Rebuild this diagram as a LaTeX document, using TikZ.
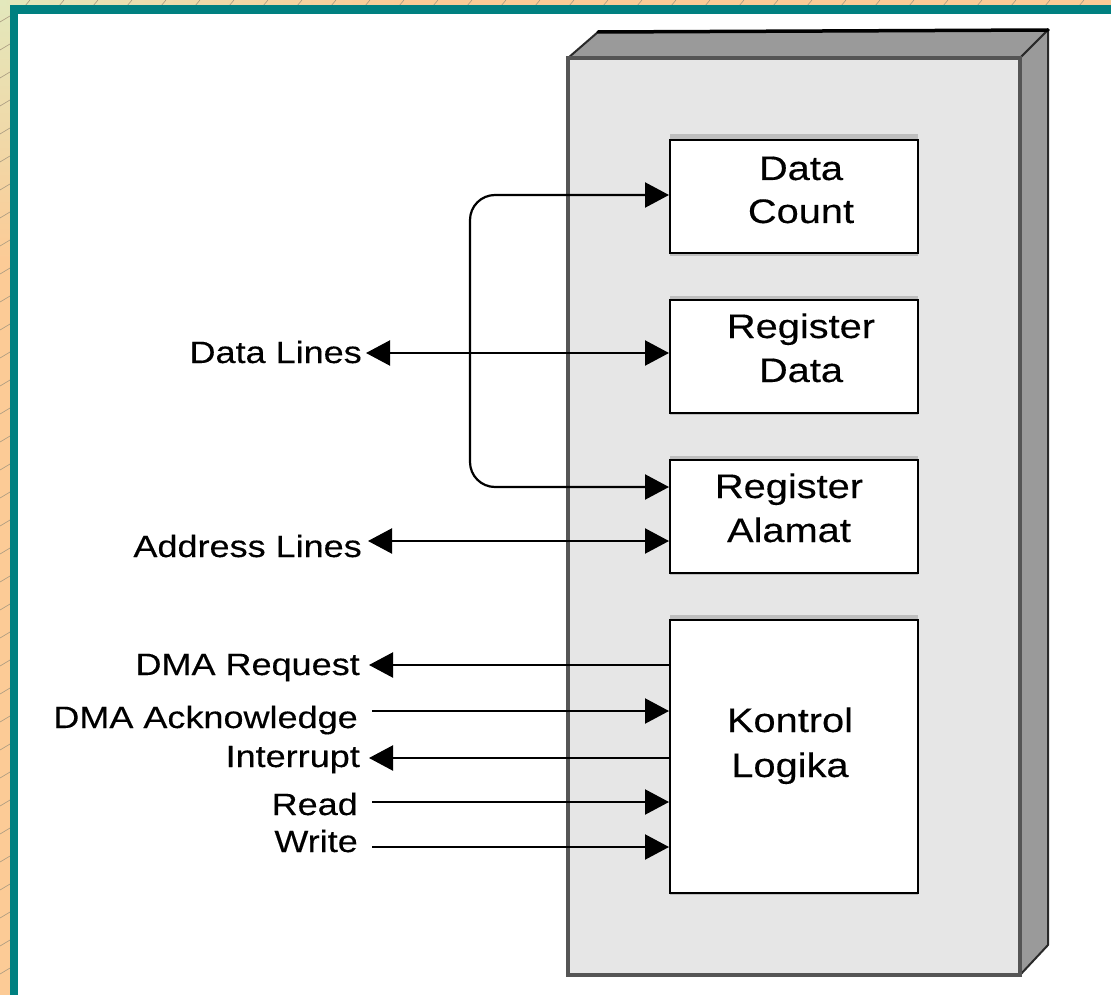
\documentclass[tikz,border=0pt]{standalone}
\usepackage{fontspec}
\setmainfont{Liberation Sans}[FakeStretch=1.17,FakeBold=0.3]
\usetikzlibrary{arrows.meta,calc}
\definecolor{tealbar}{HTML}{008080}
\definecolor{mytan}{HTML}{FCCB96}
\definecolor{paleg}{HTML}{E3E8BC}
\definecolor{hatchc}{HTML}{A89A80}
\definecolor{facec}{HTML}{E6E6E6}
\definecolor{sidec}{HTML}{9A9A9A}
\definecolor{edgec}{HTML}{555555}
\definecolor{darkc}{HTML}{2A2A2A}
\definecolor{shadowc}{HTML}{BEBEBE}
\begin{document}
\begin{tikzpicture}[x=1pt,y=-1pt,
  lbl/.style={font=\fontsize{30.8}{40}\selectfont, inner sep=0pt, anchor=base east},
  boxtxt/.style={font=\fontsize{34}{44}\selectfont, inner sep=0pt, anchor=base},
  regbox/.style={draw=black, line width=2pt, fill=white, inner sep=0pt, minimum width=248pt},
  hatch/.style={draw=hatchc, line width=0.6pt},
  tipR/.style={line width=2.2pt, -{Triangle[length=24pt,width=25pt]}},
  tipL/.style={line width=2.2pt, {Triangle[length=24pt,width=25pt]}-},
  tipLR/.style={line width=2.2pt, {Triangle[length=24pt,width=25pt]}-{Triangle[length=24pt,width=25pt]}}
]
\useasboundingbox (0,0) rectangle (1111,995);
% background
\fill[mytan] (0,0) rectangle (1111,995);
\shade[top color=paleg, bottom color=mytan] (0,0) rectangle (10,260);
\shade[left color=paleg, right color=mytan] (0,0) rectangle (400,6);
\foreach \i in {0,...,35} \draw[hatch] (0,\i*28+22) -- (10,\i*28+16);
\foreach \i in {0,...,33} \draw[hatch] (\i*34+25,6) -- (\i*34+30,0);
\fill[tealbar] (10,5) rectangle (1111,14);
\fill[tealbar] (10,5) rectangle (18,995);
\fill[white] (18,14) rectangle (1111,995);
% 3D module
\filldraw[fill=sidec, draw=darkc, line width=2pt, line join=round]
  (568,58) -- (598,32) -- (1048,30) -- (1020,58) -- cycle;
\filldraw[fill=sidec, draw=darkc, line width=2pt, line join=round]
  (1020,58) -- (1048,30) -- (1048,945) -- (1020,975) -- cycle;
\draw[black, line width=3.5pt, line cap=round] (598,32) -- (1048,30);
\node[draw=edgec, fill=facec, line width=3.5pt, inner sep=0pt,
  minimum width=452pt, minimum height=917pt] (dma) at (794,516.5) {};
% shadows of registers
\fill[shadowc] (670,134) rectangle (918,256);
\fill[shadowc] (670,296) rectangle (918,415);
\fill[shadowc] (670,456) rectangle (918,575);
\fill[shadowc] (670,615) rectangle (918,895);
% registers
\node[regbox, minimum height=113pt] (dc) at (794,196.5) {};
\node[regbox, minimum height=113pt] (rd) at (794,356.5) {};
\node[regbox, minimum height=113pt] (ra) at (794,516.5) {};
\node[regbox, minimum height=273pt] (kl) at (794,756.5) {};
\node[boxtxt] (dc1) at (801,180) {Data};
\node[boxtxt] (dc2) at (801,223) {Count};
\node[boxtxt] (rd1) at (801,338) {Register};
\node[boxtxt] (rd2) at (801,382) {Data};
\node[boxtxt] (ra1) at (789,498) {Register};
\node[boxtxt] (ra2) at (789,542) {Alamat};
\node[boxtxt] (kl1) at (790,732) {Kontrol};
\node[boxtxt] (kl2) at (790,777) {Logika};
% labels
\node[lbl] (ldata) at (362,363) {Data Lines};
\node[lbl] (laddr) at (362,557) {Address Lines};
\node[lbl] (lreq) at (360,675) {DMA Request};
\node[lbl] (lack) at (358,728) {DMA Acknowledge};
\node[lbl] (lint) at (360,767) {Interrupt};
\node[lbl] (lrd) at (358,815) {Read};
\node[lbl] (lwr) at (358,852) {Write};
% arrow start coordinates
\coordinate (cdata) at (366,353);
\coordinate (caddr) at (368,541);
\coordinate (creq) at (369,665);
\coordinate (cack) at (372,711);
\coordinate (cint) at (369,758);
\coordinate (crd) at (372,802);
\coordinate (cwr) at (372,847);
\coordinate (bus) at (470,195);
% connectors
\draw[tipLR, rounded corners=25pt] (bus -| dc.west) -- (bus) -- (bus |- 0,487) -- (ra.west |- 0,487);
\draw[tipLR] (cdata) -- (cdata -| rd.west);
\draw[tipLR] (caddr) -- (caddr -| ra.west);
\draw[tipL] (creq) -- (creq -| kl.west);
\draw[tipR] (cack) -- (cack -| kl.west);
\draw[tipL] (cint) -- (cint -| kl.west);
\draw[tipR] (crd) -- (crd -| kl.west);
\draw[tipR] (cwr) -- (cwr -| kl.west);
\end{tikzpicture}
\end{document}
